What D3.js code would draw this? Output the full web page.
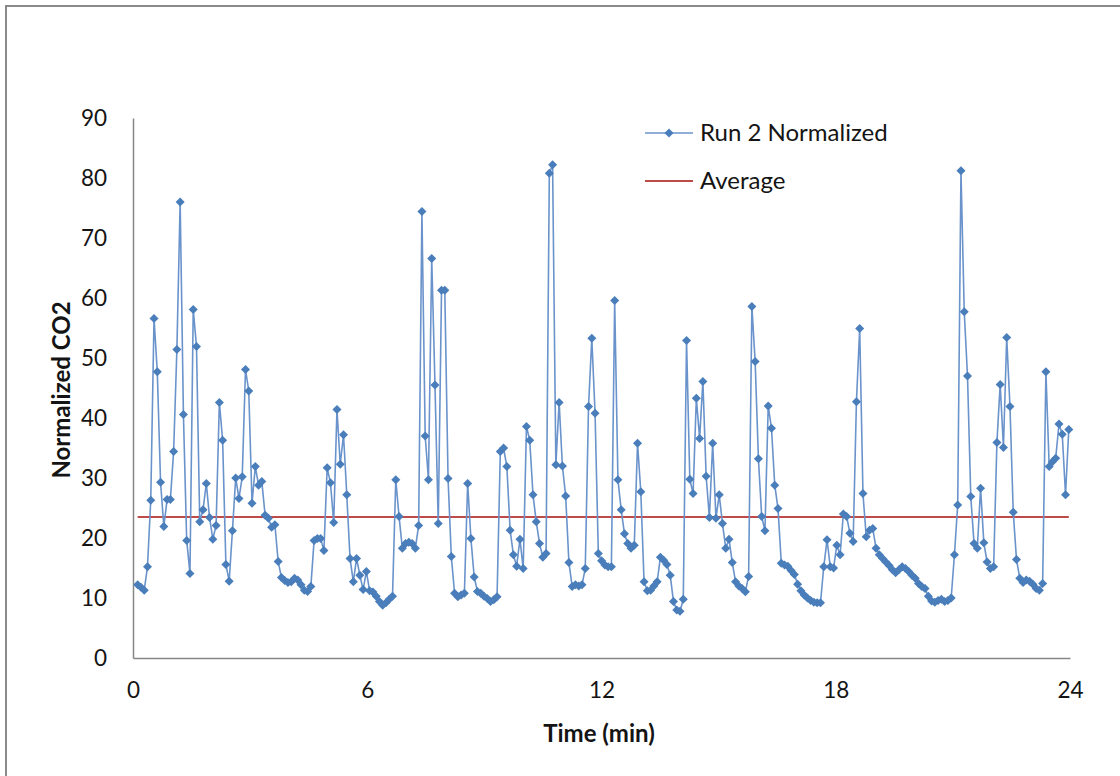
<!DOCTYPE html>
<html>
<head>
<meta charset="utf-8">
<script src="https://cdn.jsdelivr.net/npm/d3@7"></script>
<style>
  html, body { margin: 0; padding: 0; background: #ffffff; }
  svg { display: block; font-family: "Lato", "Open Sans", "Liberation Sans", sans-serif; }
</style>
</head>
<body>
<svg id="chart" width="1120" height="776"></svg>
<script>
// Normalized CO2 readings for run 2, one sample roughly every 5 s
const run2Normalized = [
  12.2, 11.8, 11.3, 15.2, 26.3, 56.6, 47.7, 29.3, 21.9, 26.4,
  26.4, 34.4, 51.4, 76.0, 40.6, 19.6, 14.1, 58.1, 51.9, 22.7,
  24.7, 29.1, 23.4, 19.8, 22.1, 42.6, 36.3, 15.6, 12.8, 21.2,
  30.0, 26.6, 30.2, 48.1, 44.5, 25.8, 31.9, 28.8, 29.4, 23.8,
  23.3, 21.8, 22.2, 16.1, 13.4, 12.9, 12.6, 12.7, 13.3, 13.0,
  12.2, 11.3, 11.1, 11.9, 19.6, 19.9, 19.9, 17.9, 31.7, 29.2,
  22.6, 41.4, 32.3, 37.2, 27.2, 16.6, 12.7, 16.6, 13.8, 11.4,
  14.4, 11.2, 11.0, 10.3, 9.4, 8.8, 9.2, 9.8, 10.3, 29.7,
  23.6, 18.3, 19.1, 19.3, 19.1, 18.3, 22.1, 74.4, 37.0, 29.7,
  66.6, 45.5, 22.4, 61.3, 61.3, 29.9, 16.9, 10.8, 10.2, 10.5,
  10.8, 29.1, 19.9, 13.5, 11.1, 10.8, 10.3, 9.9, 9.4, 9.7,
  10.2,
  34.4, 35.0, 31.9, 21.3, 17.2, 15.3, 19.8, 14.9, 38.6, 36.3,
  27.2, 22.7, 19.1, 16.8, 17.4, 80.8, 82.2, 32.2, 42.6, 32.0,
  27.0, 15.9, 11.9, 12.2, 12.0, 12.2, 14.9, 41.9, 53.3, 40.8,
  17.4, 16.2, 15.5, 15.2, 15.2,
  59.6, 29.7, 24.7, 20.7, 19.1, 18.3, 18.8, 35.8, 27.7, 12.7,
  11.2, 11.3, 12.0, 12.7, 16.8, 16.3, 15.6, 13.8, 9.4, 8.0,
  7.8, 9.8, 52.9, 29.8, 27.4, 43.3, 36.6, 46.1, 30.3, 23.4,
  35.8, 23.3, 27.2, 22.4, 18.3, 19.8, 15.9, 12.7, 12.0, 11.6,
  11.05, 13.6, 58.6, 49.4, 33.2, 23.6, 21.2, 42.0, 38.3, 28.8,
  24.9,
  15.8, 15.5, 15.3, 14.6, 13.9, 12.3, 11.2, 10.5, 10.0, 9.6,
  9.3, 9.2, 9.2, 15.2, 19.7, 15.2, 15.0, 18.8, 17.2, 24.0,
  23.6, 20.8, 19.4, 42.7, 54.9, 27.4, 20.2, 21.3, 21.6, 18.3,
  17.2, 16.6, 16.0, 15.4, 14.7, 14.2, 14.7, 15.2, 14.9, 14.4,
  13.8, 13.3, 12.4, 11.9, 11.6, 10.3, 9.5, 9.3, 9.6, 9.8,
  9.4, 9.6, 10.0, 17.2, 25.5, 81.2, 57.7, 47.0, 26.9,
  19.1, 18.3, 28.3, 19.2, 16.0, 14.9, 15.2, 35.9, 45.6, 35.1,
  53.4, 41.9, 24.3, 16.4, 13.3, 12.6, 13.0, 12.8, 12.3, 11.6,
  11.3, 12.4, 47.7, 31.9, 32.7, 33.3, 39.0, 37.3, 27.2, 38.1
];

// Sampling: first reading and interval, in minutes
const firstSampleMin = 0.12;
const sampleStepMin = 0.08368;

// Mean level of the run
const averageCO2 = 23.5;

const xTicks = [0, 6, 12, 18, 24];
const yTicks = [0, 10, 20, 30, 40, 50, 60, 70, 80, 90];

const seriesNames = ["Run 2 Normalized", "Average"];
const axisTitles = { x: "Time (min)", y: "Normalized CO2" };

const points = run2Normalized.map((v, i) => ({ t: firstSampleMin + i * sampleStepMin, v }));
const tFirst = points[0].t;
const tLast = points[points.length - 1].t;

const svg = d3.select("#chart");

// Chart frame
svg.append("rect")
  .attr("x", 6).attr("y", 6)
  .attr("width", 1140).attr("height", 800)
  .attr("fill", "#ffffff")
  .attr("stroke", "#8a8a8a")
  .attr("stroke-width", 2);

const x = d3.scaleLinear().domain([0, 24]).range([133, 1070]);
const y = d3.scaleLinear().domain([0, 90]).range([658, 118]);

const axisColor = "#868686";
const textColor = "#141414";
const tickFont = 22.5;
const titleFont = 24;

// X axis
const xAxis = svg.append("g")
  .attr("transform", `translate(0,${y(0)})`)
  .call(d3.axisBottom(x).tickValues(xTicks).tickSize(0).tickPadding(24).tickFormat(d3.format("d")));
xAxis.select(".domain").attr("stroke", axisColor).attr("stroke-width", 1.5);
xAxis.selectAll("text").attr("fill", textColor).attr("font-size", tickFont).attr("font-family", "Lato, sans-serif");

// Y axis
const yAxis = svg.append("g")
  .attr("transform", `translate(${x(0)},0)`)
  .call(d3.axisLeft(y).tickValues(yTicks).tickSize(0).tickPadding(26).tickFormat(d3.format("d")));
yAxis.select(".domain").attr("stroke", axisColor).attr("stroke-width", 1.5);
yAxis.selectAll("text").attr("fill", textColor).attr("font-size", tickFont).attr("font-family", "Lato, sans-serif");

// Axis titles
svg.append("text")
  .attr("x", 599).attr("y", 742)
  .attr("text-anchor", "middle")
  .attr("font-size", titleFont).attr("font-weight", "bold")
  .attr("fill", textColor)
  .text(axisTitles.x);

svg.append("text")
  .attr("transform", `translate(70,390) rotate(-90)`)
  .attr("text-anchor", "middle")
  .attr("font-size", titleFont).attr("font-weight", "bold")
  .attr("fill", textColor)
  .text(axisTitles.y);

const blue = "#4a7ebb";
const lineBlue = "#6a93cb";
const red = "#be4b48";

// Average line across the sampled span
svg.append("line")
  .attr("x1", x(tFirst)).attr("x2", x(tLast))
  .attr("y1", y(averageCO2)).attr("y2", y(averageCO2))
  .attr("stroke", red).attr("stroke-width", 2);

// Run 2 series line
const line = d3.line().x(d => x(d.t)).y(d => y(d.v));
svg.append("path")
  .datum(points)
  .attr("d", line)
  .attr("fill", "none")
  .attr("stroke", lineBlue)
  .attr("stroke-width", 1.6)
  .attr("stroke-linejoin", "round");

// Diamond markers
const diamond = d3.symbol().type(d3.symbolDiamond2).size(52);
svg.append("g")
  .selectAll("path")
  .data(points)
  .join("path")
  .attr("transform", d => `translate(${x(d.t)},${y(d.v)})`)
  .attr("d", diamond)
  .attr("fill", blue);

// Legend
const legend = svg.append("g");
legend.append("line")
  .attr("x1", 645).attr("x2", 693).attr("y1", 133).attr("y2", 133)
  .attr("stroke", lineBlue).attr("stroke-width", 1.6);
legend.append("path")
  .attr("transform", "translate(669,133)")
  .attr("d", diamond)
  .attr("fill", blue);
legend.append("text")
  .attr("x", 700).attr("y", 133).attr("dy", "0.35em")
  .attr("font-size", titleFont).attr("fill", textColor)
  .text(seriesNames[0]);

legend.append("line")
  .attr("x1", 645).attr("x2", 693).attr("y1", 181).attr("y2", 181)
  .attr("stroke", red).attr("stroke-width", 2);
legend.append("text")
  .attr("x", 700).attr("y", 181).attr("dy", "0.35em")
  .attr("font-size", titleFont).attr("fill", textColor)
  .text(seriesNames[1]);
</script>
</body>
</html>
